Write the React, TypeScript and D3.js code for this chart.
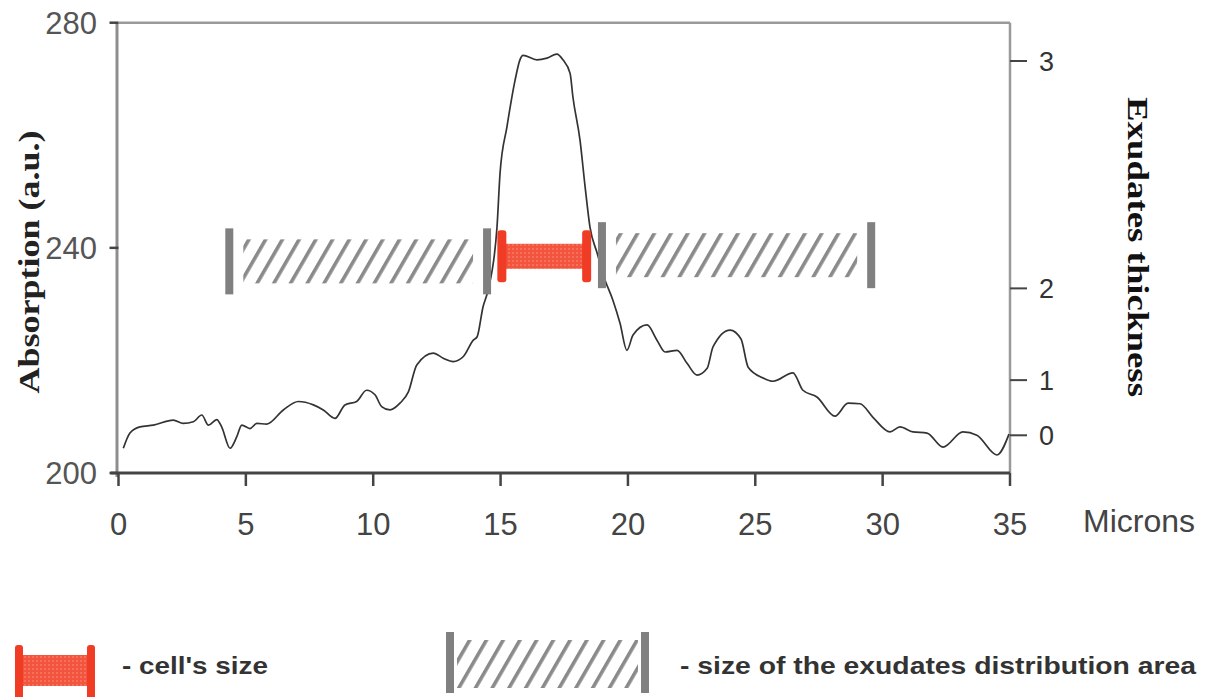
import React from "react";
import * as d3 from "d3";

// ---- data ----
const micronsX = [
  0.19, 0.45, 0.84, 1.37, 2.15, 2.54, 2.94, 3.27, 3.53, 3.86, 4.05, 4.38, 4.64, 4.84, 5.16, 5.43, 5.82,
  6.47, 7.06, 7.65, 8.04, 8.5, 8.89, 9.35, 9.74, 10.07, 10.33, 10.66, 11.05, 11.38, 11.71, 12.36, 12.75,
  13.14, 13.54, 13.93, 14.08, 14.31, 14.51, 14.86, 14.98, 15.25, 15.57, 15.76, 15.88, 16.43, 16.82, 17.21,
  17.45, 17.73, 17.84, 18.12, 18.32, 18.51, 18.79, 19.1, 19.41, 19.69, 19.96, 20.2, 20.75, 21.14, 21.46,
  21.93, 22.32, 22.71, 23.11, 23.34, 24.01, 24.44, 24.72, 25.3, 25.7, 26.48, 26.87, 27.42, 28.13, 28.64,
  29.11, 29.62, 30.29, 30.68, 31.19, 31.74, 32.37, 33.15, 33.7, 34.49, 34.96,
];
const absorption = [
  204.4, 207.1, 208.2, 208.5, 209.4, 208.8, 209.1, 210.3, 208.5, 209.5, 208.2, 204.4, 206.4, 208.5, 207.9,
  208.8, 208.7, 211.2, 212.7, 212.1, 211.2, 209.7, 212.1, 212.7, 214.7, 213.9, 211.8, 211.2, 212.4, 214.4,
  219.2, 221.3, 220.4, 219.8, 220.7, 223.6, 224.2, 229.5, 232.5, 243.7, 253.3, 261.5, 269.8, 273.4, 274.2,
  273.4, 273.7, 274.4, 273.4, 271.0, 266.8, 259.1, 250.8, 243.7, 239.1, 234.3, 230.7, 226.6, 221.8, 224.5,
  226.3, 223.6, 221.5, 221.8, 219.5, 217.4, 218.6, 222.4, 225.4, 223.8, 218.8, 216.9, 216.3, 217.8, 214.7,
  213.5, 210.1, 212.4, 212.3, 209.9, 207.3, 208.2, 207.3, 207.1, 204.6, 207.3, 206.7, 203.2, 206.9,
];

const xTicks = [0, 5, 10, 15, 20, 25, 30, 35];
const yLeftTicks = [200, 240, 280];
const thicknessTicks = [0, 1, 2, 3];
// absorption level matching each thickness tick on the right axis
const thicknessAsAbsorption = [206.7, 216.5, 232.8, 273.2];

// exudates distribution area bands (microns) and cell size (microns)
const exudateStart = [4.35, 18.98];
const exudateEnd = [14.47, 29.55];
const exudateLevel = [237.6, 238.7];
const cellStart = [15.05];
const cellEnd = [18.38];
const cellLevel = [238.5];

const xLabel = "Microns";
const yLeftLabel = "Absorption (a.u.)";
const yRightLabel = "Exudates thickness";
const legendCell = "- cell's size";
const legendExudate = "- size of the exudates distribution area";

const W = 1208;
const H = 697;

export default function App() {
  const x = d3.scaleLinear().domain([0, 35]).range([118.5, 1010]);
  const y = d3.scaleLinear().domain([200, 280]).range([473, 22.7]);
  const yRight = d3.scaleLinear().domain(thicknessTicks).range(thicknessAsAbsorption.map((v) => y(v)));

  const pts = micronsX.map((m, i) => [m, absorption[i]] as [number, number]);
  const line = d3
    .line<[number, number]>()
    .x((d) => x(d[0]))
    .y((d) => y(d[1]))
    .curve(d3.curveMonotoneX);

  const sans = "'Liberation Sans', Arial, sans-serif";
  const serif = "'Liberation Serif', 'Times New Roman', serif";
  const gray = "#808080";
  const red = "#f03c24";
  const redFill = "#f2543e";

  const grayBarW = 8;
  const grayBarH = 66;
  const hatchH = 44;
  const capW = 9;
  const capH = 52;
  const fillH = 25;

  return (
    <svg
      width={W}
      height={H}
      style={{ position: "absolute", left: 0, top: 0, background: "#fff" }}
    >
      <defs>
        <pattern
          id="hatch"
          patternUnits="userSpaceOnUse"
          width={14.5}
          height={10}
          patternTransform="rotate(30)"
        >
          <rect x={0} y={0} width={3.6} height={10} fill="#8a8a8a" />
        </pattern>
        <pattern id="dots" patternUnits="userSpaceOnUse" width={4} height={4}>
          <rect width={4} height={4} fill={redFill} />
          <rect x={0} y={0} width={2} height={2} fill="#f4705c" />
        </pattern>
      </defs>
      <rect width={W} height={H} fill="#fff" />

      {/* frame */}
      <line x1={x(0)} x2={x(35)} y1={y(280)} y2={y(280)} stroke="#9a9a9a" strokeWidth={2.5} />
      <line x1={x(35)} x2={x(35)} y1={y(280)} y2={y(200)} stroke="#9a9a9a" strokeWidth={2.5} />
      <line x1={x(0) - 1.5} x2={x(0) - 1.5} y1={y(280)} y2={y(200) + 4} stroke="#8e8e8e" strokeWidth={3} />

      {/* x axis */}
      <line x1={x(0) - 8} x2={x(35)} y1={y(200)} y2={y(200)} stroke="#444" strokeWidth={3} />
      {xTicks.map((t) => (
        <g key={"xt" + t}>
          <line x1={x(t)} x2={x(t)} y1={y(200)} y2={y(200) + 13} stroke="#444" strokeWidth={2.5} />
          <text
            x={x(t)}
            y={535}
            textAnchor="middle"
            fontFamily={sans}
            fontSize={31}
            fill="#444"
          >
            {t}
          </text>
        </g>
      ))}
      <text x={1083} y={532} fontFamily={sans} fontSize={31} fill="#444" textLength={112} lengthAdjust="spacingAndGlyphs">
        {xLabel}
      </text>

      {/* left axis ticks */}
      {yLeftTicks.map((t) => (
        <g key={"yl" + t}>
          <line x1={x(0) - 9} x2={x(0)} y1={y(t)} y2={y(t)} stroke="#444" strokeWidth={2.5} />
          <text
            x={97}
            y={y(t)}
            dy="0.36em"
            textAnchor="end"
            fontFamily={sans}
            fontSize={31}
            fill="#555"
          >
            {t}
          </text>
        </g>
      ))}

      {/* right axis ticks */}
      {thicknessTicks.map((t) => (
        <g key={"yr" + t}>
          <line x1={x(35)} x2={x(35) + 17} y1={yRight(t)} y2={yRight(t)} stroke="#444" strokeWidth={2} />
          <text
            x={1039}
            y={yRight(t)}
            dy="0.36em"
            fontFamily={sans}
            fontSize={27}
            fill="#333"
          >
            {t}
          </text>
        </g>
      ))}

      {/* axis titles */}
      <text
        transform="translate(28,262) rotate(-90)"
        textAnchor="middle"
        dy="0.35em"
        fontFamily={serif}
        fontWeight="bold"
        fontSize={30}
        fill="#222"
        textLength={263}
        lengthAdjust="spacingAndGlyphs"
      >
        {yLeftLabel}
      </text>
      <text
        transform="translate(1138,247) rotate(90)"
        textAnchor="middle"
        dy="0.35em"
        fontFamily={serif}
        fontWeight="bold"
        fontSize={30}
        fill="#111"
        textLength={300}
        lengthAdjust="spacingAndGlyphs"
      >
        {yRightLabel}
      </text>

      {/* data line */}
      <path d={line(pts) || ""} fill="none" stroke="#333" strokeWidth={1.7} />

      {/* exudate bands */}
      {exudateStart.map((s, i) => {
        const cy = y(exudateLevel[i]);
        const x0 = x(s);
        const x1 = x(exudateEnd[i]);
        return (
          <g key={"ex" + i}>
            <rect x={x0 + grayBarW + 6} y={cy - hatchH / 2} width={x1 - x0 - 2 * grayBarW - 12} height={hatchH} fill="url(#hatch)" />
            <rect x={x0 - grayBarW / 2} y={cy - grayBarH / 2} width={grayBarW} height={grayBarH} fill={gray} />
            <rect x={x1 - grayBarW / 2} y={cy - grayBarH / 2} width={grayBarW} height={grayBarH} fill={gray} />
          </g>
        );
      })}

      {/* cell size */}
      {cellStart.map((s, i) => {
        const cy = y(cellLevel[i]);
        const x0 = x(s);
        const x1 = x(cellEnd[i]);
        return (
          <g key={"cell" + i}>
            <rect x={x0} y={cy - fillH / 2} width={x1 - x0} height={fillH} fill="url(#dots)" />
            <rect x={x0 - capW / 2} y={cy - capH / 2} width={capW} height={capH} rx={3} fill={red} />
            <rect x={x1 - capW / 2} y={cy - capH / 2} width={capW} height={capH} rx={3} fill={red} />
          </g>
        );
      })}

      {/* legend */}
      <g>
        <rect x={22} y={655} width={66} height={31} fill="url(#dots)" />
        <rect x={15} y={645} width={8} height={56} rx={3} fill={red} />
        <rect x={87} y={645} width={8} height={56} rx={3} fill={red} />
        <text x={122} y={674} fontFamily={sans} fontWeight="bold" fontSize={24} fill="#333" textLength={146} lengthAdjust="spacingAndGlyphs">
          {legendCell}
        </text>

        <rect x={457} y={640} width={181} height={48} fill="url(#hatch)" />
        <rect x={446} y={632} width={8} height={61} fill={gray} />
        <rect x={641} y={632} width={8} height={61} fill={gray} />
        <text x={680} y={674} fontFamily={sans} fontWeight="bold" fontSize={24} fill="#333" textLength={516} lengthAdjust="spacingAndGlyphs">
          {legendExudate}
        </text>
      </g>
    </svg>
  );
}
